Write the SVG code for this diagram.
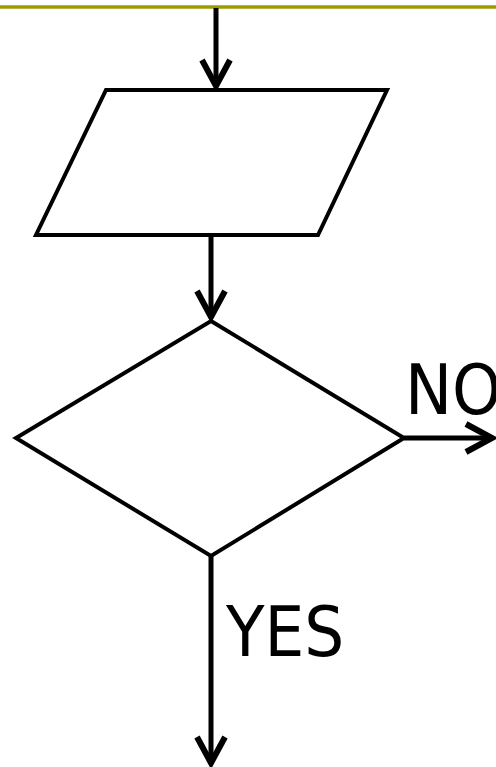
<svg xmlns="http://www.w3.org/2000/svg" width="496" height="767" viewBox="0 0 496 767">
<defs>
<style>
.shape{fill:#fff;stroke:#000;stroke-width:4;stroke-linejoin:miter}
.conn{fill:none;stroke:#000;stroke-width:5}
.lbl{font-family:"DejaVu Sans Condensed","DejaVu Sans",sans-serif;font-stretch:condensed;font-size:70px;fill:#000}
</style>
<marker id="arr" markerUnits="userSpaceOnUse" markerWidth="40" markerHeight="40" viewBox="-32 -20 40 40" refX="0" refY="0" orient="auto">
<path d="M -27 -14 L -1 0 L -27 14" fill="none" stroke="#000" stroke-width="6" stroke-linejoin="miter"/>
</marker>
</defs>
<rect x="0" y="0" width="496" height="767" fill="#fff"/>
<line x1="0" y1="7" x2="496" y2="7" stroke="#9c9c00" stroke-width="3.5"/>
<g id="input">
<polygon class="shape" points="106,90 387,90 318,235 36,235"/>
</g>
<g id="decision">
<polygon class="shape" points="211,321 404,438 211,556 16,438"/>
</g>
<g id="connectors">
<line class="conn" x1="216" y1="8" x2="216" y2="87" marker-end="url(#arr)"/>
<line class="conn" x1="211" y1="235" x2="211" y2="318" marker-end="url(#arr)"/>
<line class="conn" x1="404" y1="438" x2="493" y2="438" marker-end="url(#arr)"/>
<line class="conn" x1="211" y1="556" x2="211" y2="764" marker-end="url(#arr)"/>
</g>
<g id="labels">
<text class="lbl" x="405" y="414">NO</text>
<text class="lbl" x="226" y="656">YES</text>
</g>
</svg>
